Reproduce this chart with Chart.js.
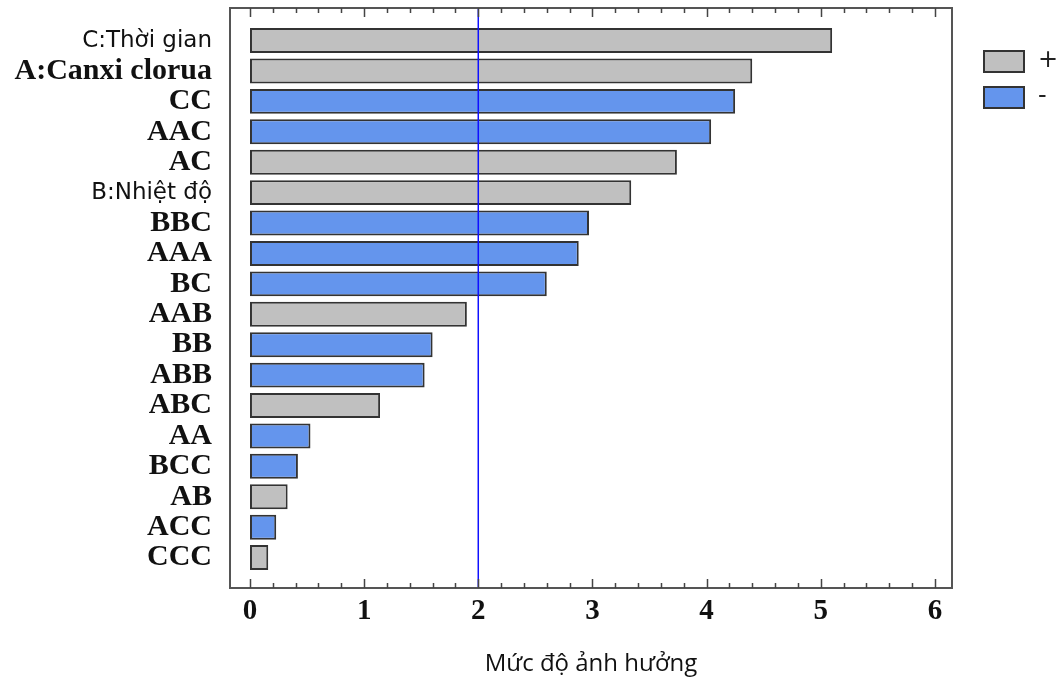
<!DOCTYPE html>
<html>
<head>
<meta charset="utf-8">
<script src="https://cdn.jsdelivr.net/npm/chart.js@4"></script>
<style>
  body { margin: 0; background: #fff; }
</style>
</head>
<body>
<canvas id="pareto" width="1057" height="677"></canvas>
<script>
// Chart data
let factors = ["C:Thời gian", "A:Canxi clorua", "CC", "AAC", "AC", "B:Nhiệt độ", "BBC", "AAA", "BC",
    "AAB", "BB", "ABB", "ABC", "AA", "BCC", "AB", "ACC", "CCC"];
let effects = [5.10, 4.40, 4.25, 4.04, 3.74, 3.34, 2.97, 2.88, 2.60,
    1.90, 1.60, 1.53, 1.14, 0.53, 0.42, 0.33, 0.23, 0.16];
let signs = ["+", "+", "-", "-", "+", "+", "-", "-", "-", "+", "-", "-", "+", "-", "-", "+", "-", "+"];
let xTicks = [0, 1, 2, 3, 4, 5, 6];
let limit = 2;

// labels shown in the sans font, the rest are serif
let sansLabels = ["C:Thời gian", "B:Nhiệt độ"];

let plusColor = "#c0c0c0";
let minusColor = "#6495ed";
let edgeColor = "#333333";

// frame, minor/major ticks, limit line and legend
const framePlugin = {
    id: "frame",
    afterDatasetsDraw(chart) {
        const ctx = chart.ctx;
        const area = chart.chartArea;
        const x = chart.scales.x;

        // limit line
        ctx.save();
        ctx.strokeStyle = "#1010ff";
        ctx.lineWidth = 1.5;
        ctx.beginPath();
        ctx.moveTo(x.getPixelForValue(limit), area.top);
        ctx.lineTo(x.getPixelForValue(limit), area.bottom);
        ctx.stroke();

        // box
        ctx.strokeStyle = "#555";
        ctx.lineWidth = 2;
        ctx.strokeRect(area.left, area.top, area.right - area.left, area.bottom - area.top);

        // inward ticks top and bottom
        ctx.strokeStyle = "#444";
        ctx.lineWidth = 1.5;
        const first = xTicks[0];
        const last = xTicks[xTicks.length - 1];
        for (let i = 0; i <= (last - first) * 5; i++) {
            const v = first + i * 0.2;
            const px = Math.round(x.getPixelForValue(v)) + 0.5;
            const len = i % 5 === 0 ? 9 : 5;
            ctx.beginPath();
            ctx.moveTo(px, area.bottom);
            ctx.lineTo(px, area.bottom - len);
            ctx.moveTo(px, area.top);
            ctx.lineTo(px, area.top + len);
            ctx.stroke();
        }
        ctx.restore();
    },
    afterDraw(chart) {
        const ctx = chart.ctx;
        ctx.save();
        const items = [["+", plusColor, 51], ["-", minusColor, 87]];
        items.forEach(([txt, col, top]) => {
            ctx.fillStyle = col;
            ctx.fillRect(984, top, 40, 21);
            ctx.strokeStyle = edgeColor;
            ctx.lineWidth = 2;
            ctx.strokeRect(984, top, 40, 21);
            ctx.fillStyle = "#222";
            ctx.font = "24px 'DejaVu Sans'";
            ctx.textBaseline = "middle";
            ctx.fillText(txt, 1038, top + 10);
        });
        ctx.restore();
    },
};

const ctx = document.getElementById("pareto").getContext("2d");
const paretoChart = new Chart(ctx, {
    type: "bar",
    data: {
        datasets: [
            {
                data: effects.map((v, i) => ({ x: v, y: i })),
                backgroundColor: signs.map((s) => (s === "+" ? plusColor : minusColor)),
                borderColor: edgeColor,
                borderWidth: 2,
                borderSkipped: false,
                barPercentage: 1,
                categoryPercentage: 0.82,
            },
        ],
    },
    options: {
        indexAxis: "y",
        responsive: false,
        animation: false,
        devicePixelRatio: 1,
        layout: {
            padding: { top: 8, right: 105, left: 0, bottom: 0 },
        },
        plugins: {
            legend: { display: false },
            tooltip: { enabled: false },
        },
        scales: {
            x: {
                type: "linear",
                min: -0.175,
                max: 6.15,
                offset: false,
                grid: { display: false, drawTicks: false },
                border: { display: false },
                afterBuildTicks: (scale) => {
                    scale.ticks = xTicks.map((v) => ({ value: v }));
                },
                afterFit: (scale) => {
                    scale.height = 89;
                },
                ticks: {
                    padding: 6,
                    color: "#111",
                    font: { family: "'Liberation Serif'", size: 29, weight: "bold" },
                },
                title: {
                    display: true,
                    text: "Mức độ ảnh hưởng",
                    color: "#111",
                    font: { family: "'Open Sans'", size: 24 },
                    padding: { top: 0, bottom: -2 },
                },
            },
            y: {
                type: "linear",
                reverse: true,
                min: -1.07,
                max: 18.0,
                offset: false,
                grid: { display: false, drawTicks: false },
                border: { display: false },
                afterBuildTicks: (scale) => {
                    scale.ticks = factors.map((f, i) => ({ value: i }));
                },
                afterFit: (scale) => {
                    scale.width = 230;
                    scale.paddingTop = 0;
                    scale.paddingBottom = 0;
                },
                ticks: {
                    autoSkip: false,
                    padding: 18,
                    color: "#111",
                    callback: (v) => factors[v],
                    font: (c) => {
                        const name = factors[c.tick ? c.tick.value : 0];
                        if (sansLabels.includes(name)) {
                            return { family: "'DejaVu Sans'", size: 23 };
                        }
                        return { family: "'Liberation Serif'", size: 30, weight: "bold" };
                    },
                },
            },
        },
    },
    plugins: [framePlugin],
});
</script>
</body>
</html>
